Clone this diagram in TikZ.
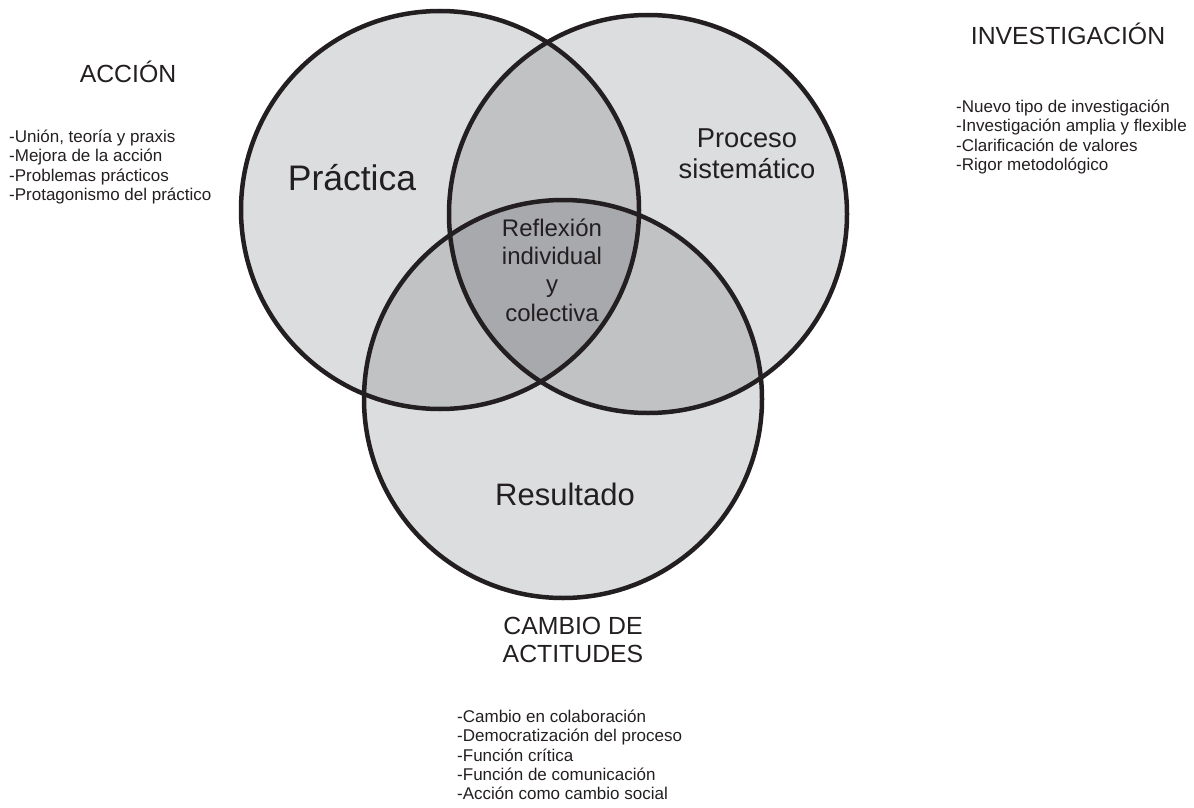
\documentclass[tikz,border=0pt]{standalone}
\usepackage{fontspec}
\setmainfont{Liberation Sans}
\definecolor{outerg}{RGB}{220,221,223}
\definecolor{pairg}{RGB}{193,194,196}
\definecolor{coreg}{RGB}{168,169,173}
\definecolor{inkc}{RGB}{35,31,32}
\begin{document}
\begin{tikzpicture}[x=1pt,y=-1pt,
  ring/.style={draw=inkc,line width=4.5pt},
  title/.style={text=inkc,inner sep=0pt,align=center,font=\fontsize{24.8}{28.5}\selectfont},
  blist/.style={text=inkc,inner sep=0pt,align=left,anchor=north west,font=\fontsize{17}{19.2}\selectfont},
  inlabel/.style={text=inkc,inner sep=0pt,align=center}]
\useasboundingbox (0,0) rectangle (1194,808);
\coordinate (cL) at (440,210);
\coordinate (cR) at (648,214);
\coordinate (cB) at (563,399);
% base fills
\fill[outerg] (cL) circle[radius=199pt];
\fill[outerg] (cR) circle[radius=199pt];
\fill[outerg] (cB) circle[radius=199pt];
% pairwise overlaps
\begin{scope}
  \clip (cL) circle[radius=199pt];
  \fill[pairg] (cR) circle[radius=199pt];
  \fill[pairg] (cB) circle[radius=199pt];
\end{scope}
\begin{scope}
  \clip (cR) circle[radius=199pt];
  \fill[pairg] (cB) circle[radius=199pt];
\end{scope}
% triple overlap
\begin{scope}
  \clip (cL) circle[radius=199pt];
  \clip (cR) circle[radius=199pt];
  \fill[coreg] (cB) circle[radius=199pt];
\end{scope}
% outlines
\draw[ring] (cL) circle[radius=199pt];
\draw[ring] (cR) circle[radius=199pt];
\draw[ring] (cB) circle[radius=199pt];
% labels inside
\node[inlabel,font=\fontsize{35.5}{40}\selectfont] (prac) at (352,178) {Práctica};
\node[inlabel,font=\fontsize{27.3}{31}\selectfont] (proc) at (747,154) {Proceso\\sistemático};
\node[inlabel,font=\fontsize{24}{28.3}\selectfont] (refl) at (552,270) {Reflexión\\individual\\y\\colectiva};
\node[inlabel,font=\fontsize{31}{36}\selectfont] (resu) at (565,494) {Resultado};
% titles
\node[title] (accion) at (128,72) {ACCIÓN};
\node[title] (invest) at (1068,34) {INVESTIGACIÓN};
\node[title] (cambio) at (573,640) {CAMBIO DE\\ACTITUDES};
% lists
\node[blist] (accl) at (9,130) {-Unión, teoría y praxis\\-Mejora de la acción\\-Problemas prácticos\\-Protagonismo del práctico};
\node[blist] (invl) at (956,100) {-Nuevo tipo de investigación\\-Investigación amplia y flexible\\-Clarificación de valores\\-Rigor metodológico};
\node[blist] (caml) at (457,710) {-Cambio en colaboración\\-Democratización del proceso\\-Función crítica\\-Función de comunicación\\-Acción como cambio social};
\end{tikzpicture}
\end{document}
